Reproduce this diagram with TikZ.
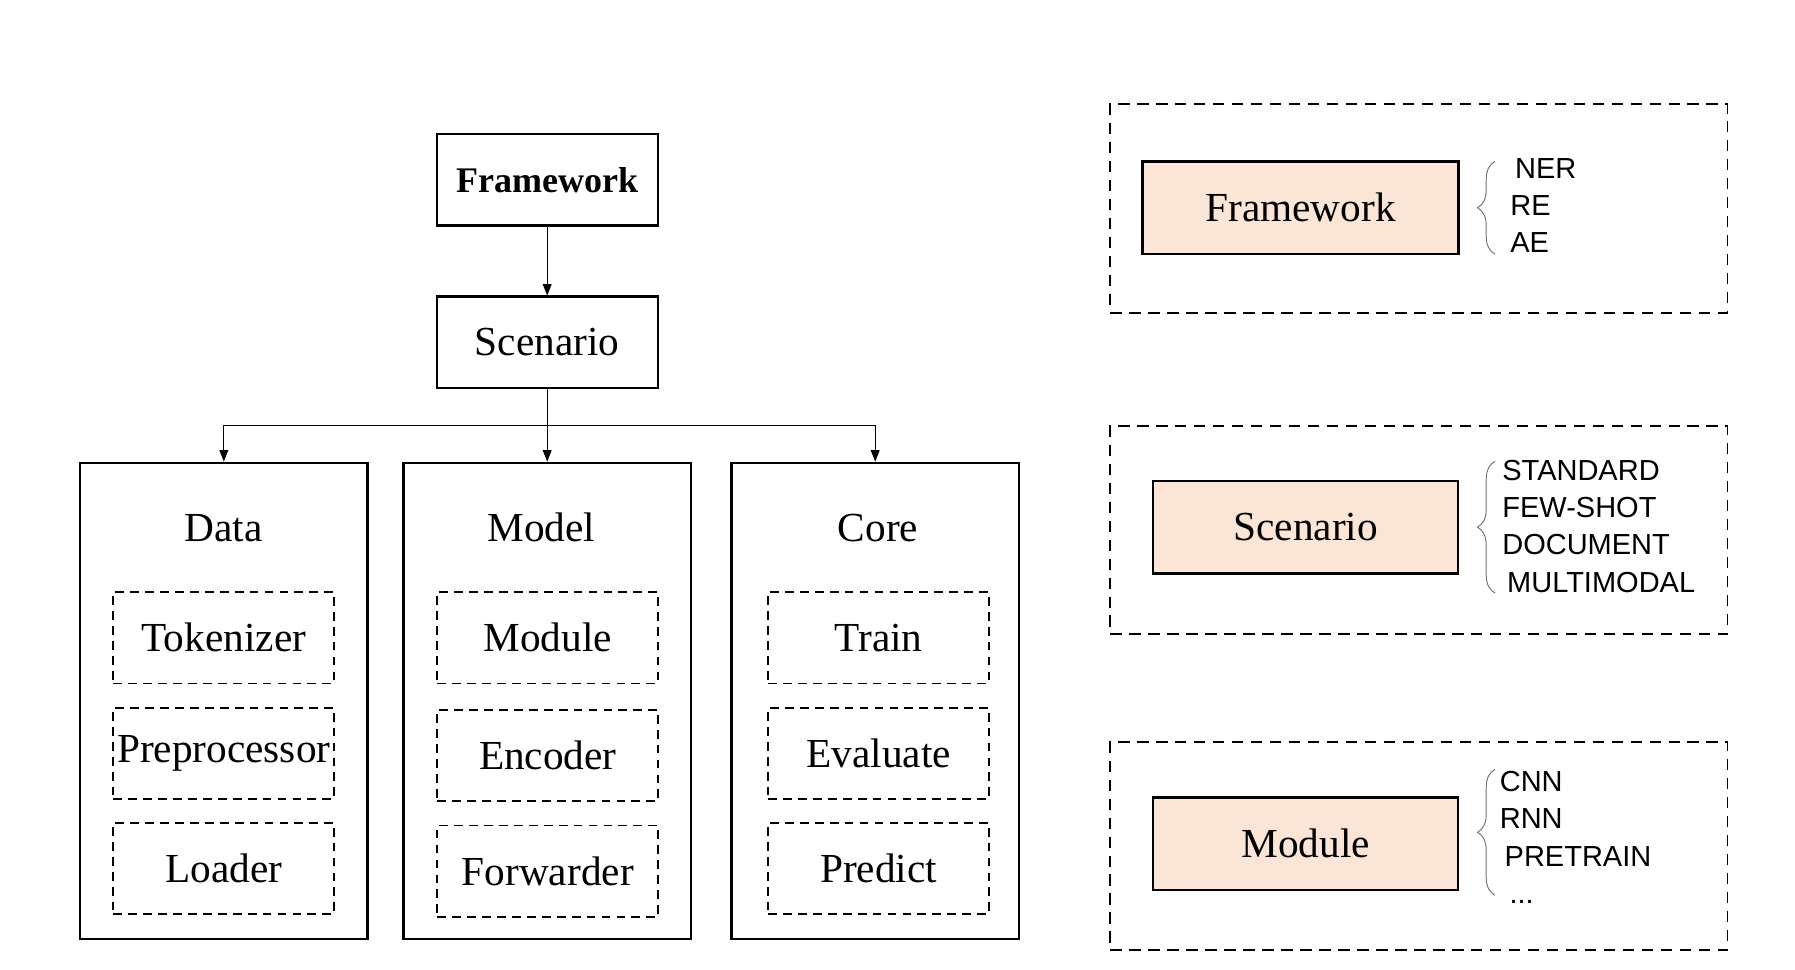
\documentclass[tikz,border=0pt]{standalone}
\usepackage{fontspec}
\setmainfont{Liberation Serif}
\newfontfamily\itemfont{Liberation Sans}
\usetikzlibrary{arrows.meta,calc,decorations.pathreplacing}

\definecolor{peach}{HTML}{FBE5D6}

\tikzset{
  box/.style={draw, line width=1.2pt, minimum width=4.42cm, minimum height=1.83cm,
    inner sep=0pt, font=\fontsize{23.5}{27}\selectfont},
  group/.style={draw, line width=1.2pt, minimum width=5.75cm, minimum height=9.52cm, inner sep=0pt},
  part/.style={draw, dash pattern=on 5pt off 3.5pt, line width=1pt, minimum width=4.42cm,
    minimum height=1.83cm, inner sep=0pt, font=\fontsize{23.5}{27}\selectfont},
  legend/.style={draw, dash pattern=on 6.5pt off 4.3pt, line width=1.1pt,
    minimum width=12.34cm, minimum height=4.17cm},
  keybox/.style={draw, fill=peach, line width=1.2pt, minimum height=1.85cm,
    inner sep=0pt, font=\fontsize{23.5}{27}\selectfont},
  arr/.style={-{Triangle[length=6.5pt,width=5pt]}, line width=0.6pt},
  brc/.style={decorate, decoration={brace, amplitude=10pt}, black!55, line width=0.55pt},
  items/.style={anchor=west, align=left, inner sep=0pt,
    font=\itemfont\fontsize{16.5}{21.2}\selectfont}
}

\begin{document}
\begin{tikzpicture}
    \useasboundingbox (0,0) rectangle (35.9,-19.4);

    % Hierarchy
    \node[box, font=\bfseries\fontsize{20.5}{24}\selectfont] (frame) at (10.944,-3.595) {Framework};
    \node[box] (scen) at (10.944,-6.846) {Scenario};

    \node[group] (data) at (4.476,-14.012) {};
    \node[group] (model) at (10.944,-14.012) {};
    \node[group] (core) at (17.504,-14.012) {};

    \draw[arr] (frame) -- (scen);
    \coordinate (split) at ($(scen.south)!0.5!(model.north)$);
    \draw[arr] (scen.south) -- (model.north);
    \draw[arr] (split) -| (data.north);
    \draw[arr] (split) -| (core.north);

    % Data
    \node[font=\fontsize{23.5}{27}\selectfont] (datat) at (4.476,-10.555) {Data};
    \node[part] (tok) at (4.476,-12.753) {Tokenizer};
    \node[part] (pre) at (4.476,-15.07) {Preprocessor};
    \node[part] (load) at (4.476,-17.37) {Loader};

    % Model
    \node[font=\fontsize{23.5}{27}\selectfont] (modelt) at (10.83,-10.555) {Model};
    \node[part] (mod) at (10.956,-12.753) {Module};
    \node[part] (enc) at (10.956,-15.111) {Encoder};
    \node[part] (fwd) at (10.956,-17.424) {Forwarder};

    % Core
    \node[font=\fontsize{23.5}{27}\selectfont] (coret) at (17.56,-10.555) {Core};
    \node[part] (train) at (17.572,-12.753) {Train};
    \node[part] (eval) at (17.572,-15.07) {Evaluate};
    \node[part] (pred) at (17.572,-17.37) {Predict};

    % Legend: Framework
    \node[legend] (lg1) at (28.379,-4.167) {};
    \node[keybox, minimum width=6.32cm] (kframe) at (26.010,-4.156) {Framework};
    \draw[brc] (29.90,-5.083) -- (29.90,-3.228);
    \node[items] (iframe) at (30.20,-4.11) {\,NER\\RE\\AE};

    % Legend: Scenario
    \node[legend] (lg2) at (28.379,-10.601) {};
    \node[keybox, minimum width=6.11cm] (kscen) at (26.113,-10.544) {Scenario};
    \draw[brc] (29.90,-11.86) -- (29.90,-9.227);
    \node[items] (iscen) at (30.04,-10.526) {STANDARD\\FEW-SHOT\\DOCUMENT\\\,MULTIMODAL};

    % Legend: Module
    \node[legend] (lg3) at (28.379,-16.920) {};
    \node[keybox, minimum width=6.11cm] (kmod) at (26.113,-16.874) {Module};
    \draw[brc] (29.90,-17.905) -- (29.90,-15.386);
    \node[items] (imod) at (29.99,-16.748) {CNN\\RNN\\\,PRETRAIN\\\,\,...};
\end{tikzpicture}
\end{document}
